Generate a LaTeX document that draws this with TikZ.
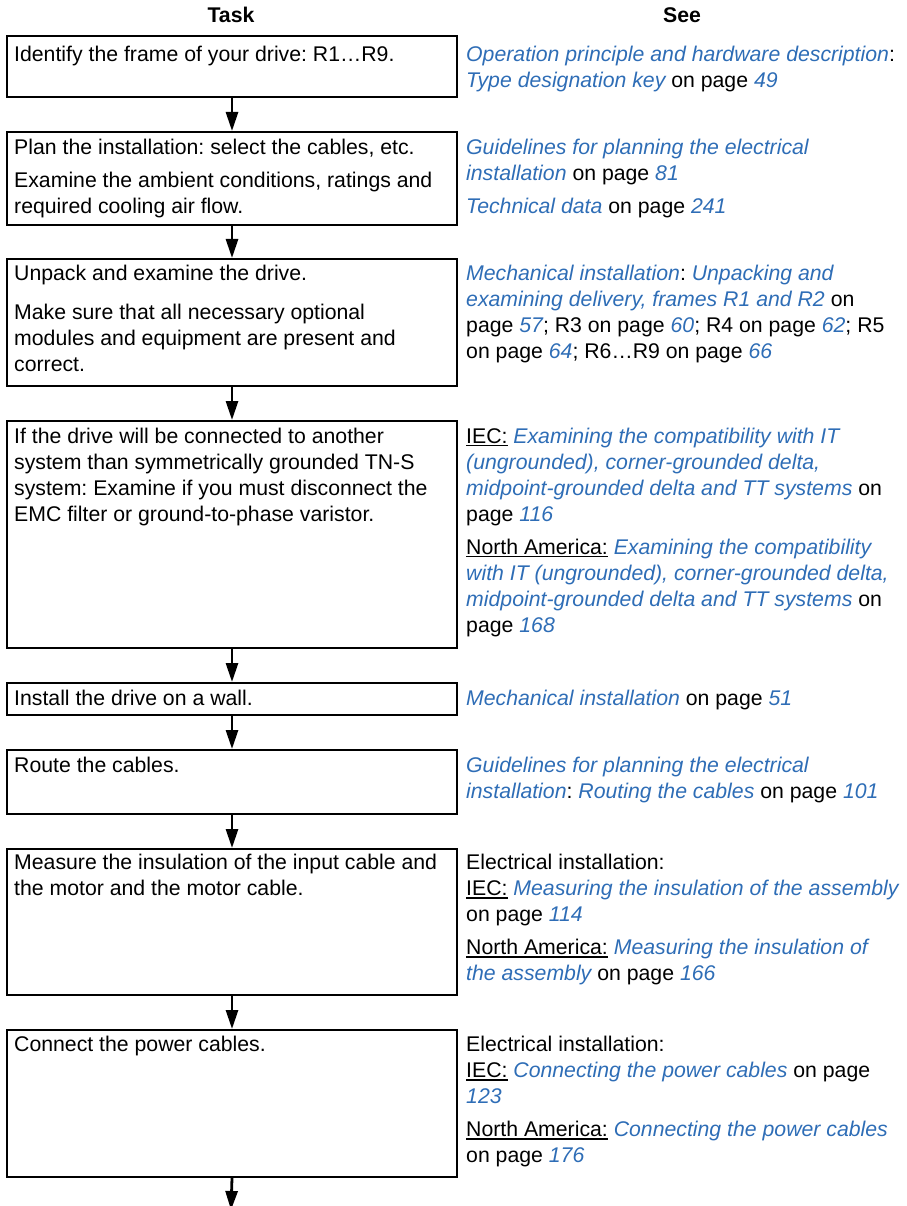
\documentclass[tikz,border=0pt]{standalone}
\usepackage{fontspec}
\setmainfont{Liberation Sans}
\usetikzlibrary{arrows.meta}
\definecolor{linkblue}{RGB}{46,109,182}
\newcommand{\fsz}{\fontsize{21.25}{26}\selectfont\frenchspacing}
\newcommand{\lk}[1]{{\color{linkblue}\itshape #1}}
\newsavebox\ulbox
\newcommand{\myul}[1]{\sbox\ulbox{#1}\rlap{\rule[-2.8pt]{\wd\ulbox}{1.4pt}}\usebox\ulbox}
\begin{document}
\begin{tikzpicture}[x=1pt,y=1pt,
  boxst/.style={draw=black, line width=2pt, minimum width=450pt, anchor=north west, inner sep=0pt},
  arr/.style={line width=2.8pt, -{Triangle[width=12pt,length=19pt]}},
  txt/.style={anchor=north west, inner sep=0pt, align=left, font=\fsz},
  hdr/.style={inner sep=0pt, font=\fsz\bfseries}]
\useasboundingbox (0,0) rectangle (906,-1206);
% headers
\node[hdr] (htask) at (231,-15) {Task};
\node[hdr] (hsee) at (682,-15) {See};
% boxes
\node[boxst, minimum height=61pt] (b1) at (6,-35) {};
\node[boxst, minimum height=93pt] (b2) at (6,-131) {};
\node[boxst, minimum height=127pt] (b3) at (6,-258) {};
\node[boxst, minimum height=227pt] (b4) at (6,-420) {};
\node[boxst, minimum height=32pt] (b5) at (6,-682) {};
\node[boxst, minimum height=64pt] (b6) at (6,-749) {};
\node[boxst, minimum height=146pt] (b7) at (6,-848) {};
\node[boxst, minimum height=147pt] (b8) at (6,-1029) {};
\coordinate (bend) at (231,-1210);
% arrows
\draw[arr] (b1.south) -- (b2.north);
\draw[arr] (b2.south) -- (b3.north);
\draw[arr] (b3.south) -- (b4.north);
\draw[arr] (b4.south) -- (b5.north);
\draw[arr] (b5.south) -- (b6.north);
\draw[arr] (b6.south) -- (b7.north);
\draw[arr] (b7.south) -- (b8.north);
\draw[arr] (b8.south) -- (bend);
% left texts
\node[txt] (l1) at (14,-45.5) {Identify the frame of your drive: R1…R9.};
\node[txt] (l2) at (14,-138.5) {Plan the installation: select the cables, etc.\\[7pt]
Examine the ambient conditions, ratings and\\ required cooling air flow.};
\node[txt] (l3) at (14,-264.5) {Unpack and examine the drive.\\[13pt]
Make sure that all necessary optional\\ modules and equipment are present and\\ correct.};
\node[txt] (l4) at (14,-427.8) {If the drive will be connected to another\\
system than symmetrically grounded TN-S\\ system: Examine if you must disconnect the\\
EMC filter or ground-to-phase varistor.};
\node[txt] (l5) at (14,-689.8) {Install the drive on a wall.};
\node[txt] (l6) at (14,-757.3) {Route the cables.};
\node[txt] (l7) at (14,-854.3) {Measure the insulation of the input cable and\\ the motor and the motor cable.};
\node[txt] (l8) at (14,-1036.3) {Connect the power cables.};
% right texts
\node[txt] (r1) at (466,-45.5) {\lk{Operation principle and hardware description}:\\
\lk{Type designation key} on page \lk{49}};
\node[txt] (r2) at (466,-138.5) {\lk{Guidelines for planning the electrical}\\
\lk{installation} on page \lk{81}\\[7pt]
\lk{Technical data} on page \lk{241}};
\node[txt] (r3) at (466,-264.5) {\lk{Mechanical installation}: \lk{Unpacking and}\\
\lk{examining delivery, frames R1 and R2} on\\
page \lk{57}; R3 on page \lk{60}; R4 on page \lk{62}; R5\\
on page \lk{64}; R6…R9 on page \lk{66}};
\node[txt] (r4) at (466,-427.8) {\myul{IEC:} \lk{Examining the compatibility with IT}\\
\lk{(ungrounded), corner-grounded delta,}\\
\lk{midpoint-grounded delta and TT systems} on\\
page \lk{116}\\[7pt]
\myul{North America:} \lk{Examining the compatibility}\\
\lk{with IT (ungrounded), corner-grounded delta,}\\
\lk{midpoint-grounded delta and TT systems} on\\
page \lk{168}};
\node[txt] (r5) at (466,-689.8) {\lk{Mechanical installation} on page \lk{51}};
\node[txt] (r6) at (466,-757.3) {\lk{Guidelines for planning the electrical}\\
\lk{installation}: \lk{Routing the cables} on page \lk{101}};
\node[txt] (r7) at (466,-854.3) {Electrical installation:\\
\myul{IEC:} \lk{Measuring the insulation of the assembly}\\
on page \lk{114}\\[7pt]
\myul{North America:} \lk{Measuring the insulation of}\\
\lk{the assembly} on page \lk{166}};
\node[txt] (r8) at (466,-1036.3) {Electrical installation:\\
\myul{IEC:} \lk{Connecting the power cables} on page\\
\lk{123}\\[7pt]
\myul{North America:} \lk{Connecting the power cables}\\
on page \lk{176}};
\end{tikzpicture}
\end{document}
